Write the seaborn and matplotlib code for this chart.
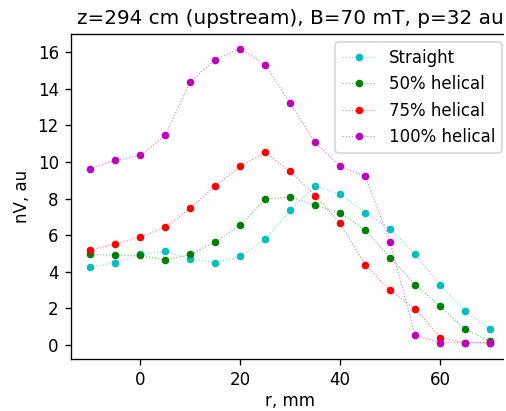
import matplotlib
matplotlib.use("Agg")
import matplotlib.pyplot as plt
import matplotlib.colors as mcolors
from matplotlib.patches import Rectangle
import seaborn as sns
import pandas as pd

r = [-10, -5, 0, 5, 10, 15, 20, 25, 30, 35, 40, 45, 50, 55, 60, 65, 70]
straight = [4.25, 4.5, 4.95, 5.12, 4.7, 4.5, 4.85, 5.78, 7.36, 8.7, 8.23, 7.23, 6.36, 4.95, 3.3, 1.84, 0.86]
helical50 = [4.95, 4.9, 4.9, 4.64, 4.95, 5.63, 6.56, 7.96, 8.09, 7.63, 7.23, 6.28, 4.77, 3.3, 2.11, 0.86, 0.2]
helical75 = [5.19, 5.52, 5.9, 6.43, 7.49, 8.7, 9.76, 10.53, 9.49, 8.16, 6.65, 4.37, 2.99, 1.99, 0.4, 0.13, 0.13]
helical100 = [9.64, 10.09, 10.36, 11.47, 14.4, 15.6, 16.2, 15.33, 13.2, 11.08, 9.76, 9.23, 5.63, 0.53, 0.13, 0.13, 0.1]

labels = ["Straight", "50% helical", "75% helical", "100% helical"]
colors = ["c", "g", "r", "m"]
series = [straight, helical50, helical75, helical100]

DPI = 120
fig = plt.figure(figsize=(506/DPI, 411/DPI), dpi=DPI)
ax = fig.add_axes([70.5/506, 1 - 359/411, (510-70.5)/506, (359-34)/411])

for vals, lab, col in zip(series, labels, colors):
    df = pd.DataFrame({"r": r, "v": vals})
    sns.lineplot(data=df, x="r", y="v", ax=ax, color=col, label=lab,
                 linestyle=":", linewidth=0.7, marker="o", markersize=3.8,
                 markeredgecolor=col, markerfacecolor=col, legend=False)

for line, col in zip(ax.lines, colors):
    rgb = mcolors.to_rgb(col)
    line.set_color((*rgb, 0.5))
    line.set_markerfacecolor(rgb)
    line.set_markeredgecolor(rgb)

ax.set_xlim(-14, 74)
ax.set_ylim(-0.77, 17.0)
ax.set_xticks([0, 20, 40, 60])
ax.set_yticks([0, 2, 4, 6, 8, 10, 12, 14, 16])
ax.set_xlabel("r, mm", labelpad=2)
ax.set_ylabel("nV, au")
ax.set_title("z=294 cm (upstream), B=70 mT, p=32 au")
ax.legend(ax.lines, labels, loc="upper right")

# the reference image is cropped just past x=503 with a white margin
fig.add_artist(Rectangle((503.5/506, 0), 3/506, 1, transform=fig.transFigure,
                         facecolor="white", edgecolor="none", zorder=10))
fig.savefig("out.png", dpi=DPI)
